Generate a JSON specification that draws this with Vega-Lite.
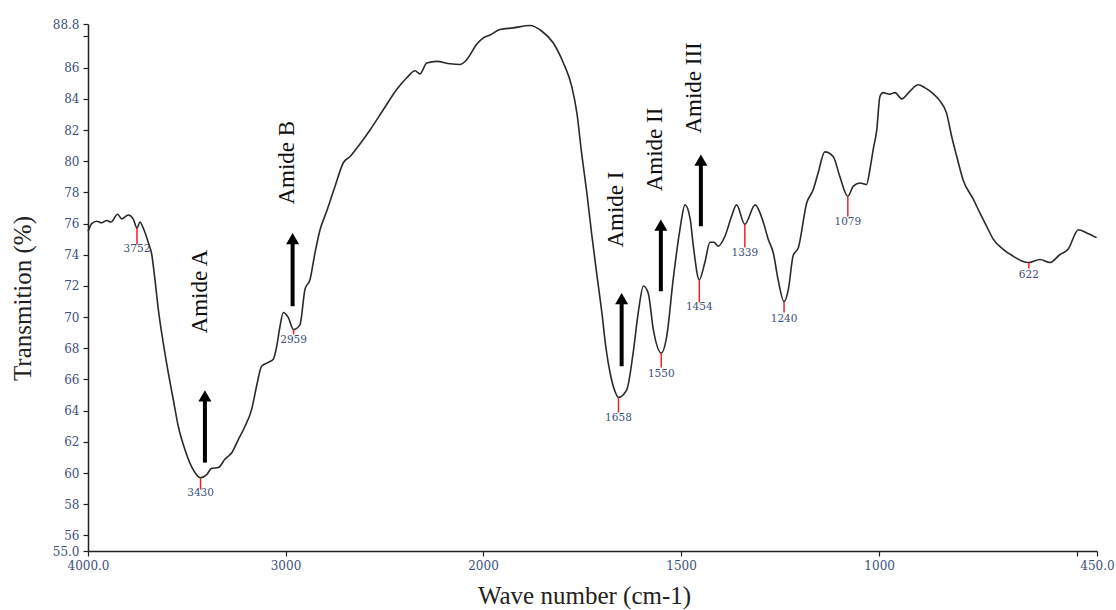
{
  "$schema": "https://vega.github.io/schema/vega-lite/v6.json",
  "width": 1009,
  "height": 527,
  "autosize": {"type": "none"},
  "padding": {"left": 88, "top": 24, "right": 19, "bottom": 59},
  "background": "white",
  "config": {"view": {"stroke": null}, "font": "Liberation Serif", "axis": {"labelOverlap": false, "labelBound": false}},
  "datasets": {
    "spectrum": [
      {"w":4000,"t":75.5},{"w":3981,"t":76.0},{"w":3956,"t":76.15},{"w":3931,"t":76.05},{"w":3905,"t":76.2},{"w":3884,"t":76.1},{"w":3850,"t":76.6},{"w":3829,"t":76.3},{"w":3796,"t":76.55},{"w":3771,"t":76.3},{"w":3752,"t":75.7},{"w":3737,"t":76.1},{"w":3720,"t":75.7},{"w":3695,"t":74.8},{"w":3677,"t":74.0},{"w":3661,"t":72.4},{"w":3644,"t":70.5},{"w":3619,"t":68.35},{"w":3593,"t":66.4},{"w":3568,"t":64.7},{"w":3543,"t":63.0},{"w":3509,"t":61.5},{"w":3475,"t":60.4},{"w":3430,"t":59.7},{"w":3399,"t":59.9},{"w":3374,"t":60.3},{"w":3340,"t":60.35},{"w":3306,"t":60.9},{"w":3272,"t":61.3},{"w":3239,"t":62.15},{"w":3205,"t":63.0},{"w":3171,"t":64.1},{"w":3146,"t":65.6},{"w":3121,"t":66.85},{"w":3087,"t":67.1},{"w":3062,"t":67.3},{"w":3045,"t":68.1},{"w":3028,"t":69.4},{"w":3011,"t":70.3},{"w":2987,"t":70.0},{"w":2959,"t":69.2},{"w":2927,"t":69.5},{"w":2901,"t":71.8},{"w":2876,"t":72.4},{"w":2851,"t":74.1},{"w":2825,"t":75.6},{"w":2791,"t":76.8},{"w":2749,"t":78.4},{"w":2707,"t":79.9},{"w":2673,"t":80.3},{"w":2623,"t":81.1},{"w":2572,"t":82.0},{"w":2505,"t":83.3},{"w":2437,"t":84.6},{"w":2386,"t":85.35},{"w":2344,"t":85.8},{"w":2319,"t":85.6},{"w":2285,"t":86.3},{"w":2234,"t":86.4},{"w":2167,"t":86.25},{"w":2117,"t":86.2},{"w":2083,"t":86.5},{"w":2032,"t":87.5},{"w":2000,"t":87.9},{"w":1982,"t":88.1},{"w":1957,"t":88.45},{"w":1924,"t":88.55},{"w":1881,"t":88.7},{"w":1852,"t":88.35},{"w":1823,"t":87.6},{"w":1797,"t":86.3},{"w":1776,"t":84.8},{"w":1763,"t":83.1},{"w":1751,"t":80.5},{"w":1738,"t":78.0},{"w":1726,"t":75.4},{"w":1713,"t":72.8},{"w":1700,"t":70.3},{"w":1690,"t":68.1},{"w":1679,"t":66.4},{"w":1667,"t":65.25},{"w":1658,"t":64.85},{"w":1637,"t":65.35},{"w":1621,"t":67.7},{"w":1608,"t":70.3},{"w":1595,"t":72.0},{"w":1583,"t":71.55},{"w":1570,"t":69.2},{"w":1550,"t":67.7},{"w":1536,"t":68.8},{"w":1520,"t":72.4},{"w":1503,"t":75.6},{"w":1490,"t":77.2},{"w":1477,"t":76.3},{"w":1469,"t":74.55},{"w":1454,"t":72.4},{"w":1440,"t":73.5},{"w":1427,"t":74.8},{"w":1417,"t":74.8},{"w":1406,"t":74.55},{"w":1389,"t":75.2},{"w":1372,"t":76.5},{"w":1360,"t":77.2},{"w":1339,"t":75.95},{"w":1313,"t":77.2},{"w":1292,"t":76.05},{"w":1280,"t":75.0},{"w":1267,"t":74.1},{"w":1255,"t":72.4},{"w":1240,"t":71.0},{"w":1229,"t":71.8},{"w":1217,"t":73.95},{"w":1204,"t":74.45},{"w":1183,"t":77.3},{"w":1166,"t":78.2},{"w":1154,"t":79.25},{"w":1137,"t":80.6},{"w":1116,"t":80.3},{"w":1099,"t":79.0},{"w":1079,"t":77.75},{"w":1065,"t":78.4},{"w":1048,"t":78.6},{"w":1032,"t":78.5},{"w":1023,"t":79.5},{"w":1015,"t":80.75},{"w":1006,"t":82.0},{"w":998,"t":84.15},{"w":990,"t":84.4},{"w":973,"t":84.3},{"w":960,"t":84.4},{"w":943,"t":84.0},{"w":922,"t":84.5},{"w":901,"t":84.9},{"w":884,"t":84.7},{"w":867,"t":84.4},{"w":846,"t":83.85},{"w":830,"t":83.1},{"w":817,"t":81.6},{"w":804,"t":80.3},{"w":788,"t":78.8},{"w":762,"t":77.55},{"w":746,"t":76.7},{"w":729,"t":75.85},{"w":712,"t":75.0},{"w":687,"t":74.35},{"w":661,"t":73.9},{"w":640,"t":73.6},{"w":622,"t":73.5},{"w":594,"t":73.7},{"w":569,"t":73.5},{"w":544,"t":74.0},{"w":523,"t":74.35},{"w":497,"t":75.6},{"w":476,"t":75.4},{"w":451,"t":75.1}
    ],
    "peaks": [
      {"w":3752,"t":75.7,"te":74.66,"tl":74.4,"label":"3752"},
      {"w":3430,"t":59.7,"te":58.94,"tl":58.69,"label":"3430"},
      {"w":2959,"t":69.2,"te":68.88,"tl":68.56,"label":"2959"},
      {"w":1658,"t":64.85,"te":63.88,"tl":63.56,"label":"1658"},
      {"w":1550,"t":67.7,"te":66.77,"tl":66.38,"label":"1550"},
      {"w":1454,"t":72.4,"te":70.94,"tl":70.62,"label":"1454"},
      {"w":1339,"t":75.95,"te":74.46,"tl":74.14,"label":"1339"},
      {"w":1240,"t":71.0,"te":70.3,"tl":69.85,"label":"1240"},
      {"w":1079,"t":77.75,"te":76.45,"tl":76.13,"label":"1079"},
      {"w":622,"t":73.5,"te":73.12,"tl":72.67,"label":"622"}
    ],
    "arrows": [
      {"w":3408,"t0":60.67,"t1":64.95},
      {"w":2964,"t0":70.7,"t1":75.04},
      {"w":1650,"t0":66.85,"t1":71.19},
      {"w":1551,"t0":71.66,"t1":75.9},
      {"w":1450,"t0":75.83,"t1":80.07}
    ],
    "amides": [
      {"w":3433,"t":71.64,"label":"Amide A"},
      {"w":2994,"t":79.9,"label":"Amide B"},
      {"w":1663,"t":76.9,"label":"Amide I"},
      {"w":1566,"t":80.75,"label":"Amide II"},
      {"w":1467,"t":84.7,"label":"Amide III"}
    ]
  },
  "layer": [
    {
      "data": {"name": "spectrum"},
      "mark": {"type": "line", "color": "#2a2a2a", "strokeWidth": 1.6, "interpolate": "monotone"},
      "encoding": {
        "x": {"field": "w", "type": "quantitative",
          "scale": {"domain": [4000, 2000, 450], "range": [0, 395, 1009], "nice": false, "zero": false},
          "axis": {
            "values": [4000, 3000, 2000, 1500, 1000, 500, 450],
            "tickCount": 40,
            "labelExpr": "datum.value==4000?'4000.0':datum.value==450?'450.0':datum.value==500?'':format(datum.value,'d')",
            "labelOverlap": false, "labelFlush": false,
            "grid": false, "domainColor": "#222", "domainWidth": 1.5,
            "tickColor": "#222", "tickSize": 5, "tickWidth": 1.2,
            "labelFont": "DejaVu Serif", "labelFontSize": 12, "labelColor": "#3d4f7c", "labelPadding": 4,
            "title": "Wave number (cm-1)", "titleFont": "Liberation Serif", "titleFontSize": 25,
            "titleFontWeight": "normal", "titleColor": "#222",
            "titleX": 496, "titleY": 44, "titleBaseline": "middle", "titleAlign": "center"
          }},
        "y": {"field": "t", "type": "quantitative",
          "scale": {"domain": [55, 88.8], "nice": false, "zero": false},
          "axis": {
            "values": [55, 56, 58, 60, 62, 64, 66, 68, 70, 72, 74, 76, 78, 80, 82, 84, 86, 88, 88.8],
            "tickCount": 40,
            "labelExpr": "datum.value==55?'55.0':datum.value==88.8?'88.8':datum.value==88?'':format(datum.value,'d')",
            "labelOverlap": false, "labelFlush": false,
            "grid": false, "domainColor": "#222", "domainWidth": 1.5,
            "tickColor": "#222", "tickSize": 5, "tickWidth": 1.2,
            "labelFont": "DejaVu Serif", "labelFontSize": 12, "labelColor": "#3d4f7c", "labelPadding": 4,
            "title": "Transmition (%)", "titleFont": "Liberation Serif", "titleFontSize": 25,
            "titleFontWeight": "normal", "titleColor": "#222",
            "titleX": -66, "titleY": 274, "titleBaseline": "middle", "titleAlign": "center", "titleAngle": 270
          }}
      }
    },
    {
      "data": {"name": "peaks"},
      "mark": {"type": "rule", "color": "#ee2222", "strokeWidth": 1.5},
      "encoding": {
        "x": {"field": "w", "type": "quantitative"},
        "y": {"field": "t", "type": "quantitative"},
        "y2": {"field": "te"}
      }
    },
    {
      "data": {"name": "peaks"},
      "mark": {"type": "text", "font": "DejaVu Serif", "fontSize": 10.5, "color": "#3d4f7c", "baseline": "middle", "align": "center"},
      "encoding": {
        "x": {"field": "w", "type": "quantitative"},
        "y": {"field": "tl", "type": "quantitative"},
        "text": {"field": "label"}
      }
    },
    {
      "data": {"name": "arrows"},
      "mark": {"type": "rule", "color": "#000000", "strokeWidth": 4},
      "encoding": {
        "x": {"field": "w", "type": "quantitative"},
        "y": {"field": "t0", "type": "quantitative"},
        "y2": {"field": "t1"}
      }
    },
    {
      "data": {"name": "arrows"},
      "mark": {"type": "point", "shape": "triangle-up", "filled": true, "color": "#000000", "size": 170, "opacity": 1},
      "encoding": {
        "x": {"field": "w", "type": "quantitative"},
        "y": {"field": "t1", "type": "quantitative"}
      }
    },
    {
      "data": {"name": "amides"},
      "mark": {"type": "text", "font": "Liberation Serif", "fontSize": 23, "color": "#111111", "angle": 270, "baseline": "middle", "align": "center"},
      "encoding": {
        "x": {"field": "w", "type": "quantitative"},
        "y": {"field": "t", "type": "quantitative"},
        "text": {"field": "label"}
      }
    }
  ]
}
